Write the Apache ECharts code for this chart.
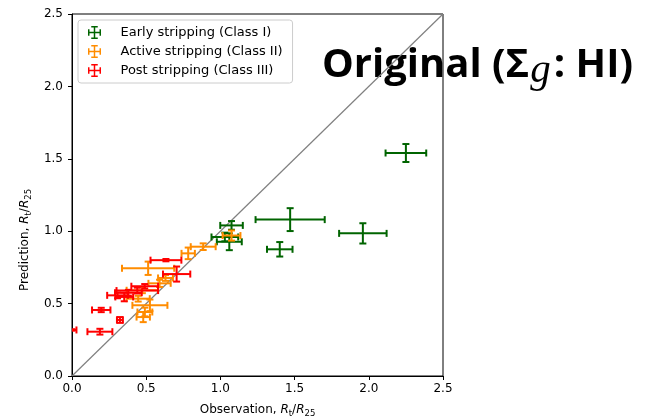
<!doctype html>
<html lang="en">
<head>
    <meta charset="UTF-8">
    <title>Original HI</title>
    <style>
        *{
            margin:0;
            padding:0;
        }
        html,body {
            width:650px;
            height:419px;
            background:#fff;
        }
        #main{
            width:650px;
            height:419px;
        }
    </style>
</head>
<body>

<div id="main"></div>
<script src="https://cdn.jsdelivr.net/npm/echarts@6/dist/echarts.min.js"></script>
<script>

    // Class I - early stripping
    var earlyObs     = [2.25, 1.47, 1.96, 1.40, 1.075, 1.03, 1.06];
    var earlyObsErr  = [0.137, 0.233, 0.16, 0.086, 0.076, 0.09, 0.084];
    var earlyPred    = [1.54, 1.08, 0.985, 0.875, 1.04, 0.96, 0.927];
    var earlyPredErr = [0.062, 0.079, 0.07, 0.05, 0.03, 0.03, 0.058];

    // Class II - active stripping
    var activeObs     = [1.075, 0.884, 0.783, 0.513, 0.63, 0.59, 0.474, 0.446, 0.525, 0.491, 0.48];
    var activeObsErr  = [0.06, 0.084, 0.045, 0.176, 0.05, 0.075, 0.106, 0.078, 0.118, 0.05, 0.045];
    var activePred    = [0.97, 0.893, 0.847, 0.744, 0.677, 0.64, 0.592, 0.534, 0.488, 0.442, 0.407];
    var activePredErr = [0.035, 0.023, 0.04, 0.046, 0.02, 0.025, 0.02, 0.02, 0.04, 0.03, 0.035];

    // Class III - post stripping
    var postObs     = [0.633, 0.705, 0.49, 0.44, 0.38, 0.307, 0.352, 0.197, 0.323, 0.188, 0.0];
    var postObsErr  = [0.104, 0.092, 0.09, 0.14, 0.09, 0.07, 0.06, 0.062, 0.02, 0.084, 0.03];
    var postPred    = [0.80, 0.704, 0.62, 0.59, 0.575, 0.557, 0.546, 0.456, 0.387, 0.306, 0.318];
    var postPredErr = [0.008, 0.052, 0.015, 0.02, 0.02, 0.02, 0.03, 0.015, 0.02, 0.02, 0.005];

    var classNames = ['Early stripping (Class I)', 'Active stripping (Class II)', 'Post stripping (Class III)'];
    var classColors = ['#006400', '#ff8c00', '#ff0000'];

    function rows(xs, xe, ys, ye) {
        return xs.map(function (x, i) {
            return [x, ys[i], xe[i], ye[i]];
        });
    }

    function errorBar(params, api) {
        var x = api.value(0), y = api.value(1), ex = api.value(2), ey = api.value(3);
        var l = api.coord([x - ex, y]);
        var r = api.coord([x + ex, y]);
        var t = api.coord([x, y + ey]);
        var b = api.coord([x, y - ey]);
        var cap = 3.5;
        var st = {stroke: api.visual('color'), lineWidth: 2};
        function seg(x1, y1, x2, y2) {
            return {type: 'line', shape: {x1: x1, y1: y1, x2: x2, y2: y2}, style: st};
        }
        return {
            type: 'group',
            children: [
                seg(l[0], l[1], r[0], r[1]),
                seg(t[0], t[1], b[0], b[1]),
                seg(l[0], l[1] - cap, l[0], l[1] + cap),
                seg(r[0], r[1] - cap, r[0], r[1] + cap),
                seg(t[0] - cap, t[1], t[0] + cap, t[1]),
                seg(b[0] - cap, b[1], b[0] + cap, b[1])
            ]
        };
    }

    // legend glyph: cross with caps, built from filled bars
    var crossIcon = 'path://M0,6.2h14v1.6h-14z M6.2,0h1.6v14h-1.6z M0,3.5h1.6v7h-1.6z M12.4,3.5h1.6v7h-1.6z M3.5,0h7v1.6h-7z M3.5,12.4h7v1.6h-7z';

    var font = 'DejaVu Sans';
    var subRich = {
        i: {fontFamily: font, fontStyle: 'italic', fontSize: 12, color: '#000'},
        s: {fontFamily: font, fontSize: 8.5, color: '#000', padding: [7, 0, 0, 0]},
        n: {fontFamily: font, fontSize: 12, color: '#000'}
    };

    var myChart = echarts.init(document.getElementById('main'), null, {renderer: 'canvas'});

    function mkSeries(i, data) {
        return {
            name: classNames[i],
            type: 'custom',
            renderItem: errorBar,
            clip: true,
            itemStyle: {color: classColors[i]},
            data: data,
            z: 3 + i
        };
    }

    myChart.setOption({
        animation: false,
        color: classColors,
        grid: {
            left: 72, right: 207, top: 14, bottom: 43,
            outerBoundsMode: 'none',
            containLabel: false,
            show: true, borderColor: '#000', borderWidth: 1
        },
        legend: {
            orient: 'vertical',
            left: 78,
            top: 20,
            padding: [6, 10, 6, 10],
            itemGap: 6,
            itemWidth: 14,
            itemHeight: 13,
            backgroundColor: 'rgba(255,255,255,0.8)',
            borderColor: '#cccccc',
            borderWidth: 1,
            borderRadius: 3,
            textStyle: {fontFamily: font, fontSize: 13, color: '#000', padding: [0, 0, 0, 14]},
            data: classNames.map(function (n) {
                return {name: n, icon: crossIcon};
            })
        },
        xAxis: {
            type: 'value',
            min: 0, max: 2.5, interval: 0.5,
            name: '{n|Observation, }{i|R}{s|t}{n|/}{i|R}{s|25}',
            nameLocation: 'middle',
            nameGap: 26,
            nameTextStyle: {rich: subRich},
            axisLine: {lineStyle: {color: '#000', width: 1}},
            axisTick: {show: true, length: 4, lineStyle: {color: '#000'}},
            axisLabel: {
                color: '#000', fontFamily: font, fontSize: 12, margin: 7,
                formatter: function (v) { return v.toFixed(1); }
            },
            splitLine: {show: false}
        },
        yAxis: {
            type: 'value',
            min: 0, max: 2.5, interval: 0.5,
            name: '{n|Prediction, }{i|R}{s|t}{n|/}{i|R}{s|25}',
            nameLocation: 'middle',
            nameGap: 38,
            nameRotate: 90,
            nameTextStyle: {rich: subRich, padding: [0, 90, 0, 0]},
            axisLine: {lineStyle: {color: '#000', width: 1}},
            axisTick: {show: true, length: 4, lineStyle: {color: '#000'}},
            axisLabel: {
                color: '#000', fontFamily: font, fontSize: 12, margin: 9,
                formatter: function (v) { return v.toFixed(1); }
            },
            splitLine: {show: false}
        },
        graphic: [{
            type: 'text',
            left: 322,
            top: 46,
            style: {
                text: '{a|Original (Σ}{g|g}{a|: HI)}',
                rich: {
                    a: {fontFamily: 'Open Sans', fontWeight: 'bold', fontSize: 40, color: '#000'},
                    g: {fontFamily: 'Liberation Serif', fontStyle: 'italic', fontSize: 41, color: '#000', padding: [10, 3, 0, 1]}
                }
            }
        }],
        series: [
            {
                type: 'line',
                data: [[0, 0], [2.5, 2.5]],
                symbol: 'none',
                silent: true,
                lineStyle: {color: '#808080', width: 1.2},
                z: 1
            },
            mkSeries(0, rows(earlyObs, earlyObsErr, earlyPred, earlyPredErr)),
            mkSeries(1, rows(activeObs, activeObsErr, activePred, activePredErr)),
            mkSeries(2, rows(postObs, postObsErr, postPred, postPredErr))
        ]
    });

</script>
</body>
</html>
